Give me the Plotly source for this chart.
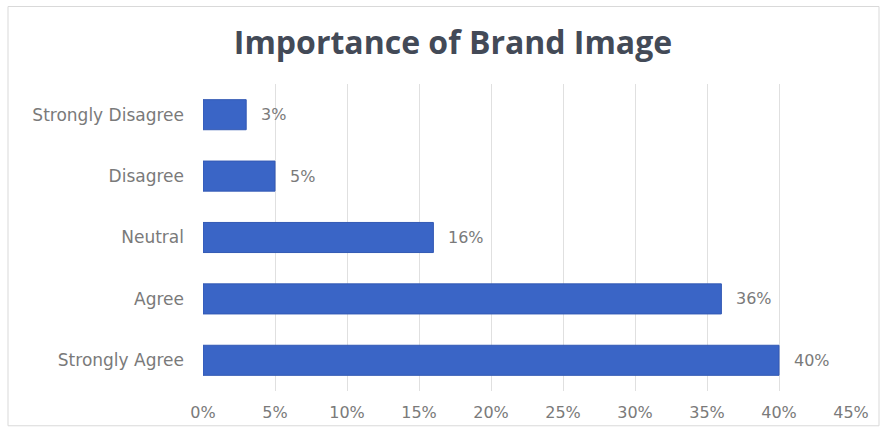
import plotly.graph_objects as go

categories = ["Strongly Agree", "Agree", "Neutral", "Disagree", "Strongly Disagree"]
values = [0.40, 0.36, 0.16, 0.05, 0.03]
value_labels = ["40%", "36%", "16%", "5%", "3%"]
tick_vals = [0, 0.05, 0.10, 0.15, 0.20, 0.25, 0.30, 0.35, 0.40, 0.45]
tick_text = ["0%", "5%", "10%", "15%", "20%", "25%", "30%", "35%", "40%", "45%"]

W, H = 883, 434
ml, mr, mt, mb = 203, 32, 84, 41
pw, ph = W - ml - mr, H - mt - mb
label_font = dict(family="DejaVu Sans", size=16, color="#7a7a7a")
cat_font = dict(family="DejaVu Sans", size=17, color="#7a7a7a")

fig = go.Figure()
fig.add_trace(go.Bar(
    y=categories, x=values, orientation="h",
    marker=dict(color="#3A65C6", line=dict(color="#3359B4", width=1)),
    width=0.49,
    hoverinfo="x+y",
))

for c, v, t in zip(categories, values, value_labels):
    fig.add_annotation(x=v, y=c, text=t, showarrow=False, xanchor="left",
                       xshift=13, font=label_font)

fig.update_layout(
    width=W, height=H,
    margin=dict(l=ml, r=mr, t=mt, b=mb),
    paper_bgcolor="white", plot_bgcolor="white",
    showlegend=False,
    title=dict(text="<b>Importance of Brand Image</b>", x=453 / W, xanchor="center",
               y=1 - 43 / H, yanchor="middle",
               font=dict(family="Open Sans", size=32, color="#434a57")),
    xaxis=dict(range=[0, 0.45], tickvals=tick_vals, ticktext=tick_text,
               showgrid=True, gridcolor="#e0e0e0", gridwidth=1,
               zeroline=False, showline=False,
               tickfont=label_font, ticks="", ticklabelstandoff=10),
    yaxis=dict(categoryorder="array", categoryarray=categories,
               tickfont=cat_font, ticks="", showgrid=False, ticklabelstandoff=18),
)

# outer chart border
fig.add_shape(type="rect", xref="paper", yref="paper",
              x0=(8 - ml) / pw, x1=(879 - ml) / pw,
              y0=(H - mb - 428) / ph, y1=(H - mb - 6) / ph,
              line=dict(color="#d9d9d9", width=1), fillcolor="rgba(0,0,0,0)", layer="below")

fig.write_html("out.html")
